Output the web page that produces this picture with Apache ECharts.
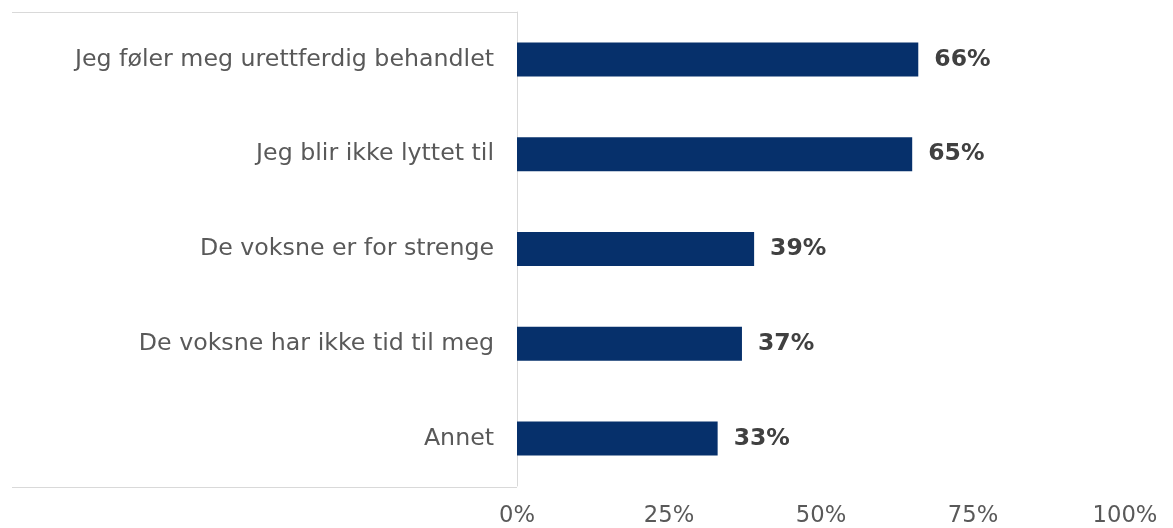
<!DOCTYPE html>
<html><head><meta charset="utf-8">
<script src="https://cdn.jsdelivr.net/npm/echarts@6/dist/echarts.min.js"></script>
<style>html,body{margin:0;padding:0;background:#fff}#c{width:1173px;height:528px}</style>
</head><body><div id="c"></div>
<script>
const categories = ["Jeg føler meg urettferdig behandlet","Jeg blir ikke lyttet til","De voksne er for strenge","De voksne har ikke tid til meg","Annet"];
const values = [66, 65, 39, 37, 33];
const xTicks = [0, 25, 50, 75, 100];

const FONT = 'DejaVu Sans';
const chart = echarts.init(document.getElementById('c'));
const gridL = 517, gridT = 12, gridR = 48, gridB = 41;
chart.setOption({
  animation: false,
  grid: {left: gridL, top: gridT, right: gridR, bottom: gridB, containLabel: false},
  xAxis: {type: 'value', min: xTicks[0], max: xTicks[xTicks.length - 1], interval: 25,
    axisLine: {show: false}, axisTick: {show: false}, splitLine: {show: false},
    axisLabel: {formatter: v => v + '%', color: '#595959', fontFamily: FONT, fontSize: 22.7, margin: 19}},
  yAxis: {type: 'category', inverse: true, data: categories,
    axisLine: {show: true, lineStyle: {color: '#d9d9d9', width: 1}},
    axisTick: {show: false},
    axisLabel: {color: '#595959', fontFamily: FONT, fontSize: 23.7, margin: 23}},
  series: [{type: 'bar', data: values, barWidth: 34,
    itemStyle: {color: '#06306b'},
    label: {show: true, position: 'right', distance: 16, formatter: p => p.value + '%',
      color: '#404040', fontFamily: FONT, fontSize: 23.5, fontWeight: 'bold'}}],
  graphic: [
    {type: 'line', shape: {x1: 12, y1: gridT + 0.5, x2: gridL, y2: gridT + 0.5}, style: {stroke: '#d9d9d9', lineWidth: 1}},
    {type: 'line', shape: {x1: 12, y1: 528 - gridB + 0.5, x2: gridL, y2: 528 - gridB + 0.5}, style: {stroke: '#d9d9d9', lineWidth: 1}}
  ]
});
</script></body></html>
